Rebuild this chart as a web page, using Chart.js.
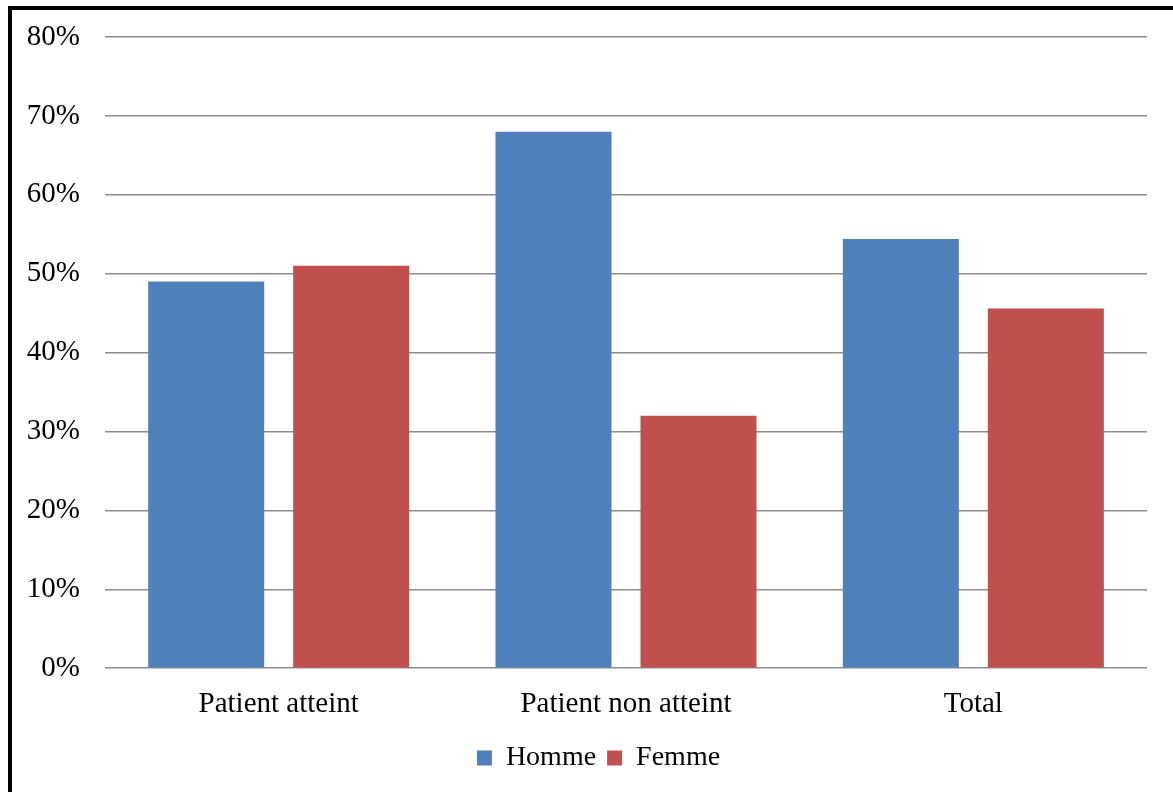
<!DOCTYPE html>
<html>
<head>
<meta charset="utf-8">
<script src="https://cdn.jsdelivr.net/npm/chart.js@4.4.1/dist/chart.umd.min.js"></script>
<style>
  html, body { margin: 0; padding: 0; background: #fff; overflow: hidden; }
  #wrap { position: relative; width: 1173px; height: 792px; }
  #frame { position: absolute; left: 8px; top: 6px; width: 1200px; height: 840px;
           border-left: 4px solid #000; border-top: 4px solid #000; pointer-events: none; }
  canvas { display: block; }
</style>
</head>
<body>
<div id="wrap">
  <canvas id="chart" width="1173" height="792"></canvas>
  <div id="frame"></div>
</div>
<script>
// Répartition par sexe
const categories = ['Patient atteint', 'Patient non atteint', 'Total'];
const homme = [49, 68, 54.4];
const femme = [51, 32, 45.6];
const yTickMin = 0;
const yTickMax = 80;
const yTickStep = 10;

const FONT = "'Liberation Serif', 'DejaVu Serif', serif";

// nudge the legend row to the right
const legendShift = {
  id: 'legendShift',
  afterUpdate(chart) {
    const lg = chart.legend;
    if (!lg) return;
    lg.left += 25;
    lg.right += 25;
    lg.adjustHitBoxes();
  }
};

new Chart(document.getElementById('chart'), {
  type: 'bar',
  data: {
    labels: categories,
    datasets: [
      { label: 'Homme', data: homme, backgroundColor: '#4F81BD' },
      { label: 'Femme', data: femme, backgroundColor: '#C0504D' }
    ]
  },
  plugins: [legendShift],
  options: {
    responsive: false,
    animation: false,
    layout: { padding: { top: 37, right: 26, left: 0, bottom: 10 } },
    datasets: { bar: { categoryPercentage: 0.835, barPercentage: 0.8 } },
    plugins: {
      tooltip: { enabled: false },
      legend: {
        position: 'bottom',
        labels: {
          color: '#000',
          font: { family: FONT, size: 28 },
          boxWidth: 15,
          boxHeight: 15,
          padding: 11
        }
      }
    },
    scales: {
      x: {
        grid: { display: false },
        border: { display: false },
        ticks: { color: '#000', font: { family: FONT, size: 29 }, padding: 11 }
      },
      y: {
        min: yTickMin,
        max: yTickMax,
        grid: { color: '#8c8c8c', lineWidth: 1.5, drawTicks: false },
        border: { display: false },
        ticks: {
          stepSize: yTickStep,
          color: '#000',
          font: { family: FONT, size: 29 },
          padding: 25,
          callback: v => v + '%'
        },
        afterFit: s => {
          s.width = 105;
          s.paddingTop = 0;
          s.paddingBottom = 0;
        }
      }
    }
  }
});
</script>
</body>
</html>
